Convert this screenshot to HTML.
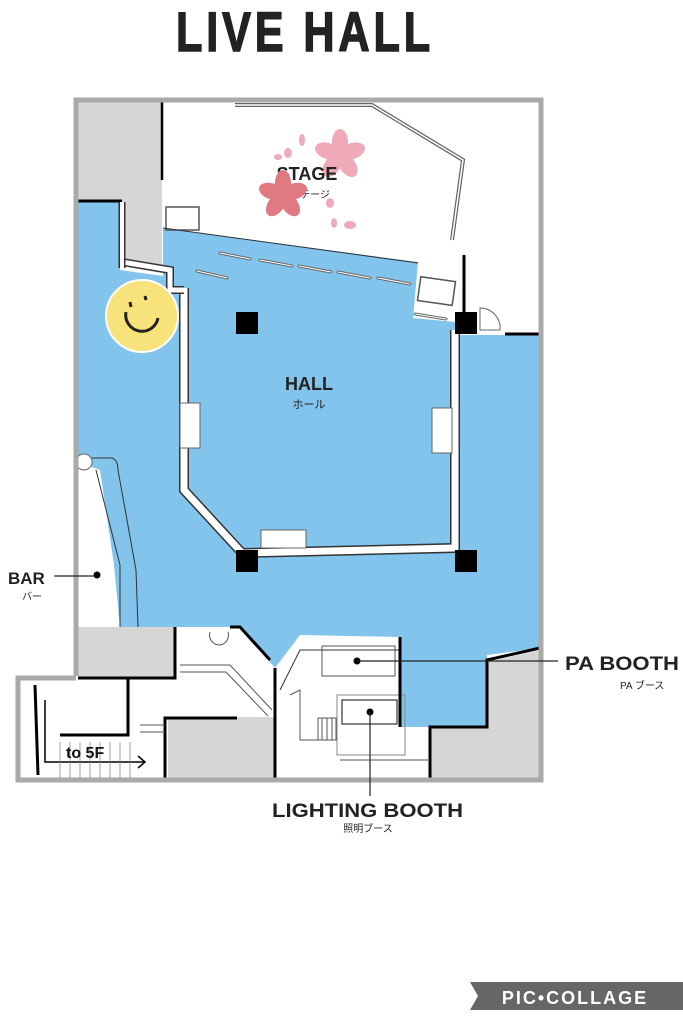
<!DOCTYPE html>
<html><head><meta charset="utf-8"><style>
html,body{margin:0;padding:0;background:#fff;width:683px;height:1024px;overflow:hidden}
svg{display:block}
text{font-family:"Liberation Sans","Noto Sans CJK JP",sans-serif}
</style></head><body>
<svg width="683" height="1024" viewBox="0 0 683 1024" xmlns="http://www.w3.org/2000/svg">
<text x="305" y="51" text-anchor="middle" font-size="56" font-weight="bold" letter-spacing="5" fill="#222" stroke="#222" stroke-width="1.5" textLength="258" lengthAdjust="spacingAndGlyphs">LIVE HALL</text>

<!-- gray blocks -->
<rect x="78" y="102" width="84" height="100" fill="#d6d6d6"/>
<polygon points="122,200 162,200 162,270 122,264" fill="#d6d6d6"/>
<rect x="78" y="627" width="97" height="50" fill="#d6d6d6"/>
<rect x="168" y="717" width="107" height="61" fill="#d6d6d6"/>
<polygon points="430,727 487,727 487,662 540,650 540,778 430,778" fill="#d6d6d6"/>

<!-- blue -->
<polygon points="78,200 120,200 120,270 163,276 163,228 418,262 413,318 455,322 455,335 540,335 540,648 487,655 487,727 400,727 400,637 300,635 275,668 240,627 78,627" fill="#82c4ec"/>
<!-- bar white -->
<polygon points="78,462 100,470 114,565 120,627 78,627" fill="#fff"/>
<path d="M92,458 L112,458 Q118,460 118,470 L136,570 L138,627" fill="none" stroke="#333" stroke-width="1"/>
<path d="M96,470 L120,565 L120,627" fill="none" stroke="#333" stroke-width="1"/>
<circle cx="84" cy="462" r="8" fill="#fff" stroke="#666" stroke-width="1"/>
<circle cx="97" cy="575" r="3.5" fill="#000"/>

<rect x="322" y="646" width="73" height="30" fill="#fff" stroke="#555" stroke-width="1"/>
<circle cx="357" cy="661" r="3.5" fill="#000"/>
<rect x="337" y="695" width="68" height="60" fill="none" stroke="#888" stroke-width="1"/>
<rect x="342" y="700" width="55" height="24" fill="#fff" stroke="#333" stroke-width="1.2"/>
<circle cx="370" cy="712" r="3.5" fill="#000"/>
<path d="M280,690 L300,650 L400,650" fill="none" stroke="#333" stroke-width="1"/>

<!-- stage -->
<polyline points="235,105 372,105 463,160 452,240" fill="none" stroke="#666" stroke-width="4"/>
<polyline points="235,105 372,105 463,160 452,240" fill="none" stroke="#fff" stroke-width="1.5"/>
<rect x="166" y="207" width="33" height="23" fill="#fff" stroke="#555" stroke-width="1.5"/>
<rect x="419" y="279" width="35" height="24" fill="#fff" stroke="#555" stroke-width="1.5" transform="rotate(8 436 291)"/>
<line x1="163" y1="228" x2="418" y2="263" stroke="#333" stroke-width="1"/>
<line x1="162" y1="102" x2="162" y2="180" stroke="#000" stroke-width="2.5"/>
<line x1="464" y1="255" x2="464" y2="312" stroke="#000" stroke-width="3"/>
<line x1="78" y1="201" x2="122" y2="201" stroke="#000" stroke-width="3"/>
<line x1="505" y1="334" x2="540" y2="334" stroke="#000" stroke-width="3"/>
<path d="M480,308 A20 20 0 0 1 500,330 L480,330 Z" fill="#fff" stroke="#666" stroke-width="1"/>
<g stroke="#666" stroke-width="3" stroke-linecap="round">
<line x1="220" y1="253" x2="250" y2="259"/><line x1="260" y1="260" x2="292" y2="266"/><line x1="299" y1="266" x2="331" y2="272"/><line x1="338" y1="272" x2="370" y2="278"/><line x1="378" y1="278" x2="410" y2="284"/><line x1="197" y1="271" x2="227" y2="278"/><line x1="415" y1="314" x2="446" y2="319"/>
</g>
<g stroke="#fff" stroke-width="1" stroke-linecap="round">
<line x1="220" y1="253" x2="250" y2="259"/><line x1="260" y1="260" x2="292" y2="266"/><line x1="299" y1="266" x2="331" y2="272"/><line x1="338" y1="272" x2="370" y2="278"/><line x1="378" y1="278" x2="410" y2="284"/><line x1="197" y1="271" x2="227" y2="278"/><line x1="415" y1="314" x2="446" y2="319"/>
</g>
<!-- sakura -->
<g fill="#eeaab8">
<g transform="translate(340,155)"><ellipse cx="0" cy="-13" rx="8" ry="13"/><ellipse cx="0" cy="-13" rx="8" ry="13" transform="rotate(72)"/><ellipse cx="0" cy="-13" rx="8" ry="13" transform="rotate(144)"/><ellipse cx="0" cy="-13" rx="8" ry="13" transform="rotate(216)"/><ellipse cx="0" cy="-13" rx="8" ry="13" transform="rotate(288)"/></g>
<ellipse cx="302" cy="140" rx="3" ry="6"/><ellipse cx="288" cy="153" rx="4" ry="5"/><ellipse cx="330" cy="203" rx="4" ry="5"/><ellipse cx="350" cy="225" rx="6" ry="4"/><ellipse cx="334" cy="223" rx="3" ry="5"/><ellipse cx="278" cy="157" rx="4" ry="3"/>
</g>
<text x="307" y="180" text-anchor="middle" font-size="18" font-weight="bold" fill="#222">STAGE</text>
<text x="310" y="198" text-anchor="middle" font-size="10" fill="#222">ステージ</text>
<g fill="#e07a80" transform="translate(283,195)"><ellipse cx="0" cy="-12" rx="8" ry="13"/><ellipse cx="0" cy="-12" rx="8" ry="13" transform="rotate(72)"/><ellipse cx="0" cy="-12" rx="8" ry="13" transform="rotate(144)"/><ellipse cx="0" cy="-12" rx="8" ry="13" transform="rotate(216)"/><ellipse cx="0" cy="-12" rx="8" ry="13" transform="rotate(288)"/></g>

<!-- hall walls -->
<polyline points="184,288 184,490 242,553 455,548 455,330" fill="none" stroke="#333" stroke-width="10"/>
<polyline points="184,288 184,490 242,553 455,548 455,330" fill="none" stroke="#fff" stroke-width="7"/>
<polyline points="122,262 170,270 170,290 184,290" fill="none" stroke="#333" stroke-width="8"/>
<polyline points="122,262 170,270 170,290 184,290" fill="none" stroke="#fff" stroke-width="5"/>
<line x1="122" y1="202" x2="122" y2="268" stroke="#333" stroke-width="7"/>
<line x1="122" y1="202" x2="122" y2="268" stroke="#fff" stroke-width="4"/>
<rect x="180" y="403" width="20" height="45" fill="#fff" stroke="#666" stroke-width="1"/>
<rect x="432" y="408" width="20" height="45" fill="#fff" stroke="#666" stroke-width="1"/>
<rect x="261" y="530" width="45" height="18" fill="#fff" stroke="#666" stroke-width="1"/>
<rect x="236" y="312" width="22" height="22" fill="#000"/>
<rect x="455" y="312" width="22" height="22" fill="#000"/>
<rect x="236" y="550" width="22" height="22" fill="#000"/>
<rect x="455" y="550" width="22" height="22" fill="#000"/>
<text x="309" y="390" text-anchor="middle" font-size="18" font-weight="bold" fill="#222">HALL</text>
<text x="309" y="408" text-anchor="middle" font-size="11" fill="#222">ホール</text>

<!-- smiley -->
<circle cx="142" cy="316" r="36" fill="#f7e37a" stroke="#fff" stroke-width="2"/>
<path d="M126,312 A16 16 0 0 0 158,318" fill="none" stroke="#222" stroke-width="3"/>
<line x1="130" y1="302" x2="131" y2="307" stroke="#222" stroke-width="3"/>
<line x1="145" y1="296" x2="146" y2="300" stroke="#222" stroke-width="3"/>

<!-- bottom walls -->
<g fill="none" stroke="#000" stroke-width="3">
<polyline points="175,627 175,678 78,678"/>
<polyline points="230,627 240,627 270,660"/>
<polyline points="275,668 275,778"/>
<polyline points="165,778 165,718 237,718"/>
<polyline points="128,678 128,735 60,735"/>
<polyline points="400,637 400,727"/>
<polyline points="430,778 430,727 487,727 487,660 540,648"/>
<line x1="35" y1="685" x2="38" y2="775"/>
</g>
<g fill="none" stroke="#555" stroke-width="1">
<polyline points="180,665 230,665 272,710"/><polyline points="180,672 226,672 268,716"/>
<polyline points="140,725 165,725"/><polyline points="140,732 165,732"/>
<path d="M210,632 A10 10 0 0 0 220,645 A10 10 0 0 0 228,632"/>
<path d="M290,695 L300,690 L300,740 L320,740"/>
<rect x="318" y="718" width="18" height="22"/>
<line x1="322" y1="718" x2="322" y2="740"/><line x1="327" y1="718" x2="327" y2="740"/><line x1="332" y1="718" x2="332" y2="740"/>
<line x1="340" y1="760" x2="430" y2="760"/>
</g>
<polyline points="45,700 45,762 145,762" fill="none" stroke="#000" stroke-width="1.5"/>
<polyline points="138,756 145,762 138,768" fill="none" stroke="#000" stroke-width="1.5"/>
<g stroke="#888" stroke-width="0.8"><line x1="60" y1="742" x2="60" y2="778"/><line x1="70" y1="742" x2="70" y2="778"/><line x1="80" y1="742" x2="80" y2="778"/><line x1="90" y1="742" x2="90" y2="778"/><line x1="100" y1="742" x2="100" y2="778"/><line x1="110" y1="742" x2="110" y2="778"/><line x1="120" y1="742" x2="120" y2="778"/><line x1="130" y1="742" x2="130" y2="778"/></g>
<text x="66" y="758" font-size="16" font-weight="bold" fill="#111">to 5F</text>

<polyline points="76,676 76,100 541,100 541,780 18,780 18,678 76,678" fill="none" stroke="#aaa" stroke-width="5"/>

<!-- labels -->
<text x="8" y="584" font-size="17" font-weight="bold" fill="#222">BAR</text>
<line x1="54" y1="576" x2="95" y2="576" stroke="#222" stroke-width="1.2"/>
<text x="22" y="600" font-size="10" fill="#222">バー</text>
<line x1="357" y1="661" x2="558" y2="661" stroke="#222" stroke-width="1.2"/>
<text x="565" y="670" font-size="19" font-weight="bold" fill="#222" textLength="114" lengthAdjust="spacingAndGlyphs">PA BOOTH</text>
<text x="620" y="689" font-size="10" fill="#222">PA ブース</text>
<line x1="370" y1="712" x2="370" y2="796" stroke="#222" stroke-width="1.2"/>
<text x="272" y="817" font-size="19" font-weight="bold" fill="#222" textLength="191" lengthAdjust="spacingAndGlyphs">LIGHTING BOOTH</text>
<text x="368" y="832" text-anchor="middle" font-size="10" fill="#222">照明ブース</text>

<polygon points="470,982 683,982 683,1010 470,1010 478,996" fill="#666"/>
<text x="575" y="1004" text-anchor="middle" font-size="18" font-weight="bold" fill="#fff" letter-spacing="2">PIC•COLLAGE</text>
</svg>
</body></html>
